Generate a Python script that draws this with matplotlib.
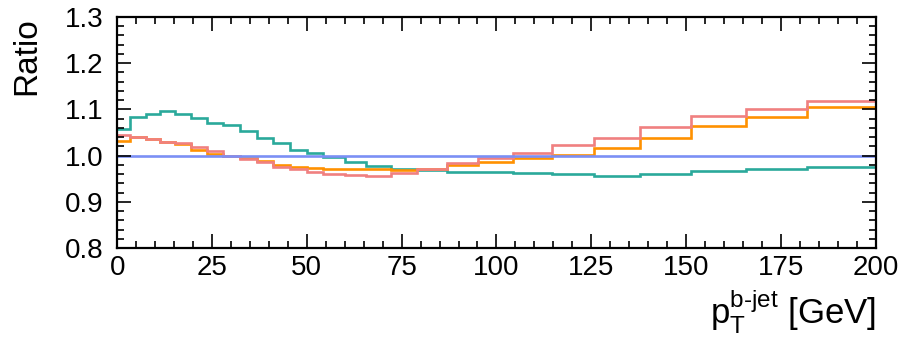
import matplotlib
matplotlib.use('Agg')
import matplotlib.pyplot as plt
from matplotlib.ticker import MultipleLocator

# bin edges in GeV (27 bins)
edges = [0, 3.4, 7.6, 11.4, 15.3, 19.5, 23.6, 27.9, 32.4, 36.8, 41.1, 45.6,
         50, 54.3, 60.1, 65.6, 72.2, 79, 86.9, 95.1, 104.3, 114.6, 125.7,
         137.8, 151.2, 165.7, 181.8, 200]

teal = [1.057, 1.083, 1.090, 1.096, 1.090, 1.081, 1.070, 1.066, 1.054, 1.037,
        1.027, 1.012, 1.005, 0.996, 0.985, 0.978, 0.972, 0.969, 0.965, 0.965,
        0.963, 0.960, 0.955, 0.960, 0.967, 0.970, 0.975]
orange = [1.032, 1.040, 1.036, 1.030, 1.024, 1.012, 1.003, 0.998, 0.994, 0.988,
          0.980, 0.976, 0.974, 0.972, 0.971, 0.970, 0.969, 0.972, 0.980, 0.986,
          0.994, 1.002, 1.016, 1.039, 1.063, 1.084, 1.105]
salmon = [1.045, 1.040, 1.036, 1.030, 1.027, 1.019, 1.010, 0.998, 0.993, 0.985,
          0.976, 0.970, 0.965, 0.960, 0.957, 0.956, 0.962, 0.970, 0.983, 0.994,
          1.006, 1.023, 1.039, 1.061, 1.085, 1.100, 1.119]
ref = [1.0] * 27

plt.rcParams['font.family'] = ['Liberation Sans', 'DejaVu Sans']
plt.rcParams['mathtext.fontset'] = 'custom'
plt.rcParams['mathtext.rm'] = 'Liberation Sans'
plt.rcParams['mathtext.it'] = 'Liberation Sans'

fig = plt.figure(figsize=(9.01, 3.37), dpi=100)
ax = fig.add_axes([0.130, 0.264, 0.842, 0.686])

ax.stairs(teal, edges, baseline=None, color='#2aa99b', lw=1.9)
ax.stairs(orange, edges, baseline=None, color='#ff9100', lw=1.9)
ax.stairs(salmon, edges, baseline=None, color='#f08080', lw=1.9)
ax.stairs(ref, edges, baseline=None, color='#7b8ff5', lw=1.9)

ax.set_xlim(0, 200)
ax.set_ylim(0.8, 1.3)
ax.xaxis.set_major_locator(MultipleLocator(25))
ax.xaxis.set_minor_locator(MultipleLocator(5))
ax.yaxis.set_major_locator(MultipleLocator(0.1))
ax.yaxis.set_minor_locator(MultipleLocator(0.02))
ax.yaxis.set_major_formatter(plt.FormatStrFormatter('%.1f'))

ax.tick_params(which='both', direction='in', top=True, right=True, width=1.2,
               labelsize=20)
ax.tick_params(which='major', length=10)
ax.tick_params(which='minor', length=5)
ax.tick_params(axis='x', pad=5)
ax.tick_params(axis='y', pad=10)
for s in ax.spines.values():
    s.set_linewidth(1.6)

ax.set_ylabel('Ratio', fontsize=24, loc='top', labelpad=16)
ax.set_xlabel(r'$\mathregular{p_{T}^{b\text{-}jet}}$ [GeV]', fontsize=25,
              loc='right', labelpad=5)

fig.savefig('out.png', dpi=100)
